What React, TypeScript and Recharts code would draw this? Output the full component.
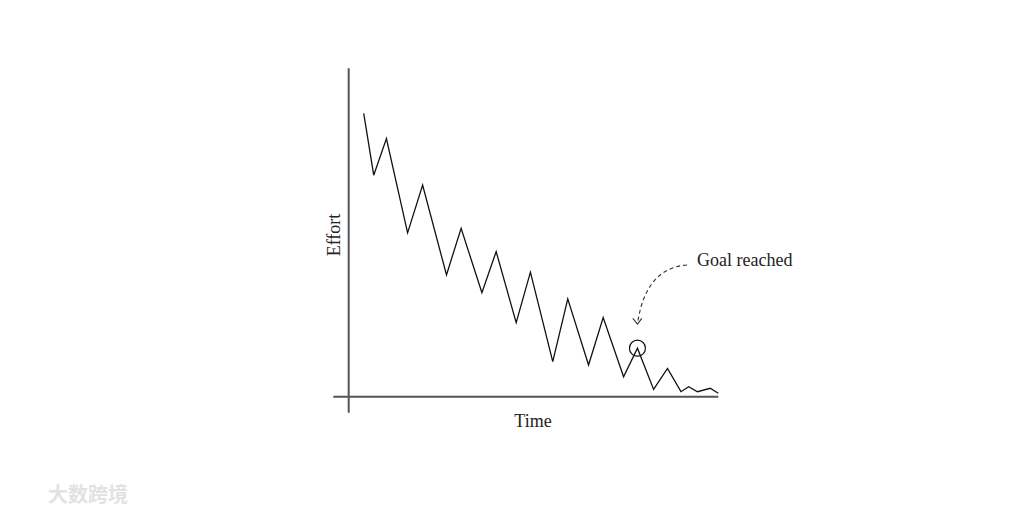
import { Customized, Line, LineChart, ReferenceDot, ReferenceLine, XAxis, YAxis } from "recharts"

// vertices of the zig-zag
const time = [3.9, 6.5, 9.8, 15.3, 19.2, 25.4, 29.2, 34.6, 38.3, 43.5, 47.2, 53.0, 56.9, 62.3, 66.1, 71.4, 75.0, 79.2, 82.8, 86.3, 88.3, 90.6, 93.9, 96.0]
const effort = [74.2, 58.0, 67.6, 42.9, 55.4, 31.9, 44.1, 27.2, 38.0, 19.4, 32.6, 9.2, 25.6, 8.3, 20.7, 5.2, 12.7, 1.9, 7.4, 1.3, 2.6, 1.3, 2.2, 0.9]

const goal = { t: 75.0, effort: 12.7 }
const arrowFrom = { t: 87.9, effort: 34.5 }
const arrowTo = { t: 75.0, effort: 19.0 }

const data = time.map((t, i) => ({ t, effort: effort[i] }))

const font = "'Liberation Serif', 'DejaVu Serif', serif"

function CurvedArrow(props: any) {
  const { x1, y1, x2, y2 } = props
  if (x1 == null) return null
  const cx = x2 + 8
  const cy = y1 + 3
  return (
    <g>
      <path d={`M${x1},${y1} Q${cx},${cy} ${x2},${y2}`} fill="none" stroke="#333" strokeWidth={1.1} strokeDasharray="4 3" />
      <path d={`M${x2 - 4.6},${y2 - 5.7} L${x2},${y2} L${x2 + 4.4},${y2 - 5.7}`} fill="none" stroke="#333" strokeWidth={1.1} />
    </g>
  )
}

function Texts() {
  return (
    <g fontFamily={font} fill="#222">
      <text x={334} y={235} fontSize={18} textAnchor="middle" dominantBaseline="central" transform="rotate(-90 334 235)">
        Effort
      </text>
      <text x={533} y={421} fontSize={18} textAnchor="middle" dominantBaseline="central">
        Time
      </text>
      <text x={697} y={260} fontSize={18} textAnchor="start" dominantBaseline="central">
        Goal reached
      </text>
      <text x={48} y={493} fontSize={20} fontWeight={700} fill="#e2e2e2" fontFamily="'Noto Sans CJK SC', sans-serif" dominantBaseline="central">
        大数跨境
      </text>
    </g>
  )
}

export default function App() {
  return (
    <div style={{ position: "absolute", left: 0, top: 0, background: "#fff" }}>
      <LineChart
        width={1024}
        height={512}
        data={data}
        margin={{ top: 68.3, left: 333.3, right: 305.7, bottom: 99.3 }}
      >
        <XAxis type="number" dataKey="t" domain={[-4, 96]} hide />
        <YAxis type="number" domain={[-4.2, 86]} hide />
        <ReferenceLine x={0} stroke="#555" strokeWidth={2} />
        <ReferenceLine y={0} stroke="#555" strokeWidth={2} />
        <Line
          type="linear"
          dataKey="effort"
          stroke="#111"
          strokeWidth={1.3}
          dot={false}
          activeDot={false}
          isAnimationActive={false}
        />
        <ReferenceDot x={goal.t} y={goal.effort} r={8} fill="none" stroke="#111" strokeWidth={1.2} />
        <ReferenceLine
          segment={[
            { x: arrowFrom.t, y: arrowFrom.effort },
            { x: arrowTo.t, y: arrowTo.effort },
          ]}
          shape={CurvedArrow}
        />
        <Customized component={Texts} />
      </LineChart>
    </div>
  )
}
